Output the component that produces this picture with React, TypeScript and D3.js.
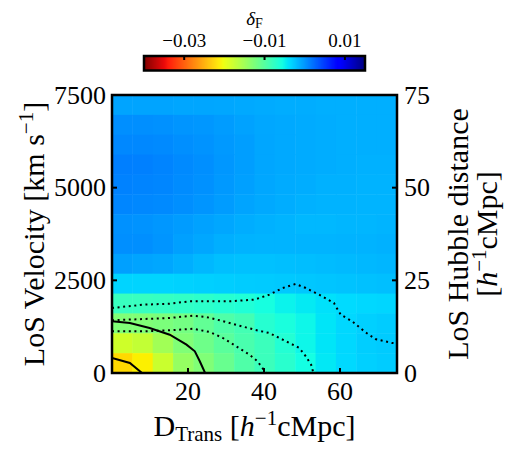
import * as d3 from "d3";

const nBins = 14;
const transMax = 75;
const velMax = 7500;
const hubbleMax = 75;

const cbarDomain = [-0.04, 0.015];
const cbarTicks = [-0.03, -0.01, 0.01];
const transTicks = [20, 40, 60];
const velTicks = [0, 2500, 5000, 7500];
const hubbleTicks = [0, 25, 50, 75];

// delta_F in units of 1e-3, rows from the top (7500 km/s) down to 0
const deltaF = [
  [-0.7, -0.7, -0.7, -0.8, -0.8, -0.9, -1.0, -1.1, -1.2, -1.2, -1.3, -1.3, -1.3, -1.3],
  [0.4, 0.4, 0.3, 0.1, 0.0, -0.3, -0.6, -0.9, -1.0, -1.1, -1.2, -1.3, -1.3, -1.3],
  [0.8, 0.8, 0.7, 0.4, 0.2, -0.1, -0.4, -0.8, -1.0, -1.1, -1.2, -1.3, -1.3, -1.3],
  [1.3, 1.2, 1.0, 0.7, 0.4, 0.0, -0.4, -0.8, -1.0, -1.1, -1.2, -1.3, -1.4, -1.4],
  [1.1, 1.0, 0.9, 0.6, 0.3, -0.1, -0.5, -0.9, -1.1, -1.2, -1.4, -1.4, -1.5, -1.5],
  [0.9, 0.8, 0.7, 0.4, 0.1, -0.3, -0.7, -1.0, -1.2, -1.4, -1.5, -1.5, -1.6, -1.6],
  [0.3, 0.2, 0.0, -0.3, -0.6, -0.9, -1.2, -1.4, -1.6, -1.8, -1.8, -1.7, -1.7, -1.6],
  [0.4, 0.4, 0.1, -0.5, -0.9, -1.3, -1.5, -1.6, -1.6, -1.6, -1.6, -1.5, -1.5, -1.4],
  [-0.5, -0.7, -0.9, -1.3, -1.8, -2.2, -2.3, -2.3, -2.2, -2.1, -2.0, -1.9, -1.8, -1.7],
  [-3.3, -3.3, -3.3, -3.2, -3.1, -3.0, -2.9, -2.8, -2.7, -2.6, -2.5, -2.4, -2.3, -2.2],
  [-8.0, -8.0, -7.8, -7.5, -7.2, -6.8, -6.4, -5.8, -5.0, -4.5, -4.0, -3.7, -3.5, -3.4],
  [-12.8, -12.8, -12.5, -12.0, -10.8, -9.5, -8.7, -6.8, -6.0, -5.2, -4.2, -3.5, -3.1, -2.9],
  [-18.0, -17.2, -15.0, -12.8, -11.6, -10.3, -9.1, -8.2, -6.6, -5.2, -4.2, -3.5, -3.0, -2.8],
  [-22.4, -21.1, -17.7, -14.2, -12.8, -11.2, -9.5, -8.2, -7.0, -5.6, -4.4, -3.6, -3.1, -2.9],
];

// contour lines: [D_trans (Mpc/h), velocity (km/s)]
const solidInner = [[0, 405], [4.7, 270], [7.9, 0]];
const solidOuter = [[0, 1395], [4.7, 1349], [9.9, 1214], [15.2, 1033], [19.6, 764], [21.8, 585], [23.1, 316], [24.5, 0]];
const dottedInner = [[0, 1125], [8.2, 1125], [15.2, 1152], [21.3, 1195], [25.7, 1106], [29.2, 944], [32.7, 720], [36.2, 494], [38.3, 315], [39.6, 135], [40.5, 0]];
const dottedMid = [[0, 1422], [8.2, 1456], [15.2, 1484], [21.3, 1546], [24.8, 1511], [28.3, 1422], [33.6, 1276], [37.5, 1168], [41.4, 1079], [45.8, 855], [49.3, 675], [51.0, 450], [52.4, 224], [53.0, 0]];
const dottedOuter = [[0, 1754], [8.2, 1843], [15.2, 1870], [20.4, 1934], [30.9, 1934], [37.5, 1978], [41.4, 2113], [44.9, 2293], [48.3, 2401], [51.0, 2293], [54.5, 2113], [58.4, 1889], [59.3, 1727], [60.2, 1573], [63.2, 1395], [66.7, 1098], [69.3, 917], [73.7, 809], [75, 800]];

const jetSeg = {
  r: [[0, 0], [0.35, 0], [0.66, 1], [0.89, 1], [1, 0.5]],
  g: [[0, 0], [0.125, 0], [0.375, 1], [0.64, 1], [0.91, 0], [1, 0]],
  b: [[0, 0.5], [0.11, 1], [0.34, 1], [0.65, 0], [1, 0]],
};
const chan = (seg: number[][]) =>
  d3.scaleLinear().domain(seg.map((p) => p[0])).range(seg.map((p) => p[1])).clamp(true);
const jr = chan(jetSeg.r), jg = chan(jetSeg.g), jb = chan(jetSeg.b);
const norm = d3.scaleLinear().domain(cbarDomain).range([1, 0]).clamp(true);
const jetR = (v: number) => {
  const t = norm(v);
  return d3.rgb(jr(t) * 255, jg(t) * 255, jb(t) * 255).formatHex();
};

const font = "Liberation Serif, Times New Roman, DejaVu Serif, serif";
const fmt = (v: number) => (v < 0 ? "\u2212" : "") + d3.format(".2f")(Math.abs(v));

export default function App() {
  const W = 511, H = 454;
  const left = 112, right = 397, top = 95, bottom = 373;
  const x = d3.scaleLinear().domain([0, transMax]).range([left, right]);
  const y = d3.scaleLinear().domain([0, velMax]).range([bottom, top]);
  const yR = d3.scaleLinear().domain([0, hubbleMax]).range([bottom, top]);
  const cx = d3.scaleLinear().domain(cbarDomain).range([144, 365]);
  const cTop = 56, cBot = 70.5;
  const tickFont = 26;
  const labelFont = 30;
  const supFont = 21;

  const xEdges = d3.range(nBins + 1).map((i) => (i * transMax) / nBins);
  const yEdges = d3.range(nBins + 1).map((i) => velMax - (i * velMax) / nBins);

  const line = d3.line<number[]>().x((d) => x(d[0])).y((d) => y(d[1]));
  const cbarSteps = d3.range(0, 1.0001, 1 / 220).map((f) => cbarDomain[0] + f * (cbarDomain[1] - cbarDomain[0]));

  return (
    <svg width={W} height={H} style={{ position: "absolute", left: 0, top: 0, background: "#fff" }} fontFamily={font}>
      <defs>
        <clipPath id="plotClip">
          <rect x={left} y={top} width={right - left} height={bottom - top} />
        </clipPath>
      </defs>
      {/* heatmap */}
      <g clipPath="url(#plotClip)">
        {deltaF.map((row, r) =>
          row.map((v, c) => (
            <rect
              key={`${r}-${c}`}
              x={x(xEdges[c])}
              y={y(yEdges[r])}
              width={x(xEdges[c + 1]) - x(xEdges[c]) + 0.5}
              height={y(yEdges[r + 1]) - y(yEdges[r]) + 0.5}
              fill={jetR(v / 1000)}
            />
          ))
        )}
        {[solidInner, solidOuter].map((d, i) => (
          <path key={`s${i}`} d={line(d) || ""} fill="none" stroke="#000" strokeWidth={2} />
        ))}
        {[dottedInner, dottedMid, dottedOuter].map((d, i) => (
          <path key={`d${i}`} d={line(d) || ""} fill="none" stroke="#000" strokeWidth={2} strokeDasharray="2 3.6" />
        ))}
      </g>
      {/* ticks */}
      {transTicks.map((t) => (
        <g key={`xt${t}`}>
          <line x1={x(t)} x2={x(t)} y1={bottom} y2={bottom - 5} stroke="#000" strokeWidth={2} />
          <text x={x(t)} y={400} textAnchor="middle" fontSize={tickFont}>{t}</text>
        </g>
      ))}
      {velTicks.map((t) => (
        <g key={`yt${t}`}>
          <line x1={left} x2={left + 5} y1={y(t)} y2={y(t)} stroke="#000" strokeWidth={2} />
          <text x={106} y={y(t) + 8.5} textAnchor="end" fontSize={tickFont}>{t}</text>
        </g>
      ))}
      {hubbleTicks.map((t) => (
        <g key={`rt${t}`}>
          <line x1={right} x2={right - 5} y1={yR(t)} y2={yR(t)} stroke="#000" strokeWidth={2} />
          <text x={404} y={yR(t) + 8.5} textAnchor="start" fontSize={tickFont}>{t}</text>
        </g>
      ))}
      <rect x={left} y={top} width={right - left} height={bottom - top} fill="none" stroke="#000" strokeWidth={2.5} />

      {/* axis labels */}
      <text x={(left + right) / 2} y={436} textAnchor="middle" fontSize={labelFont}>
        D<tspan fontSize={supFont} dy={5}>Trans</tspan>
        <tspan dy={-5}> [</tspan>
        <tspan fontStyle="italic">h</tspan>
        <tspan fontSize={supFont} dy={-11}>{"\u2212"}1</tspan>
        <tspan dy={11}>cMpc]</tspan>
      </text>
      <text transform={`translate(44,${(top + bottom) / 2}) rotate(-90)`} textAnchor="middle" fontSize={labelFont}>
        LoS Velocity [km s<tspan fontSize={supFont} dy={-11}>{"\u2212"}1</tspan>
        <tspan dy={11}>]</tspan>
      </text>
      <text transform={`translate(468,${(top + bottom) / 2}) rotate(-90)`} textAnchor="middle" fontSize={labelFont}>
        LoS Hubble distance
      </text>
      <text transform={`translate(497,${(top + bottom) / 2}) rotate(-90)`} textAnchor="middle" fontSize={labelFont}>
        [<tspan fontStyle="italic">h</tspan>
        <tspan fontSize={supFont} dy={-11}>{"\u2212"}1</tspan>
        <tspan dy={11}>cMpc]</tspan>
      </text>

      {/* colorbar */}
      {cbarSteps.slice(0, -1).map((v, i) => (
        <rect key={`cb${i}`} x={cx(v)} y={cTop} width={cx(cbarSteps[i + 1]) - cx(v) + 0.5} height={cBot - cTop} fill={jetR((v + cbarSteps[i + 1]) / 2)} />
      ))}
      {cbarTicks.map((t) => (
        <g key={`ct${t}`}>
          <line x1={cx(t)} x2={cx(t)} y1={cTop} y2={cTop + 4} stroke="#000" strokeWidth={2} />
          <text x={cx(t)} y={47} textAnchor="middle" fontSize={19}>{fmt(t)}</text>
        </g>
      ))}
      <rect x={cx(cbarDomain[0])} y={cTop} width={cx(cbarDomain[1]) - cx(cbarDomain[0])} height={cBot - cTop} fill="none" stroke="#000" strokeWidth={2.5} />
      <text x={(cx(cbarDomain[0]) + cx(cbarDomain[1])) / 2} y={25} textAnchor="middle" fontSize={19}>
        <tspan fontStyle="italic">δ</tspan>
        <tspan fontSize={14} dy={3}>F</tspan>
      </text>
    </svg>
  );
}
